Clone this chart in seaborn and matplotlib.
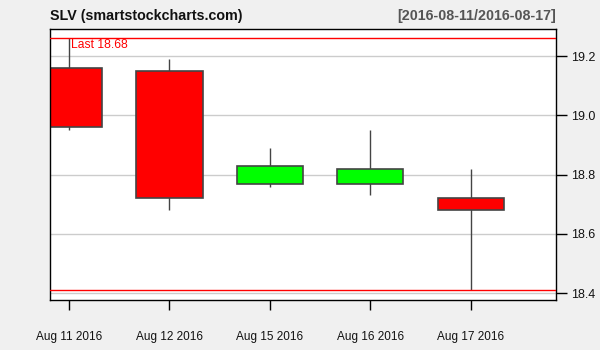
import matplotlib
matplotlib.use("Agg")
import matplotlib.pyplot as plt
import seaborn as sns
import pandas as pd
import numpy as np

dates = ["Aug 11 2016", "Aug 12 2016", "Aug 15 2016", "Aug 16 2016", "Aug 17 2016"]
opens = [19.16, 19.15, 18.77, 18.77, 18.72]
highs = [19.26, 19.19, 18.89, 18.95, 18.82]
lows = [18.95, 18.68, 18.76, 18.73, 18.41]
closes = [18.96, 18.72, 18.83, 18.82, 18.68]
yticks = [18.4, 18.6, 18.8, 19.0, 19.2]
last_price = 18.68

df = pd.DataFrame({"date": dates, "open": opens, "high": highs, "low": lows, "close": closes})
df["pos"] = np.arange(len(df))

sns.set_style("white")
plt.rcParams["font.family"] = ["Liberation Sans", "DejaVu Sans"]

fig = plt.figure(figsize=(6, 3.5), dpi=100, facecolor="#F0F0F0")
ax = fig.add_axes([50/600, 1-299.5/350, 506/600, 271/350])
ax.set_facecolor("white")

for y in yticks:
    ax.axhline(y, color="#CCCCCC", lw=1, zorder=0)

edge = "#444444"
ax.vlines(df["pos"], df["low"], df["high"], color=edge, lw=1, zorder=1)
colors = ["#00FF00" if c >= o else "#FF0000" for o, c in zip(df["open"], df["close"])]
bottoms = np.minimum(df["open"], df["close"])
heights = np.abs(df["close"] - df["open"])
ax.bar(df["pos"], heights, bottom=bottoms, width=0.66, color=colors,
       edgecolor=edge, linewidth=1.2, zorder=2)

ax.axhline(max(highs), color="#FF0000", lw=1, zorder=3)
ax.axhline(min(lows), color="#FF0000", lw=1, zorder=3)
ax.text(0.02, max(highs) - 0.002, f"Last {last_price:.2f}", color="#FF0000",
        fontsize=8.7, va="top", ha="left", zorder=4)

ax.set_xlim(-0.19, 4.85)
ax.set_ylim(18.379, 19.293)
ax.set_xticks(df["pos"])
ax.set_xticklabels(df["date"])
ax.set_yticks(yticks)
ax.set_yticklabels([f"{v:.1f}" for v in yticks])
ax.yaxis.tick_right()
ax.tick_params(axis="y", direction="out", length=8, width=1, color="black",
               labelsize=9, pad=3, right=True, left=False, labelcolor="#111111")
ax.tick_params(axis="x", direction="out", length=7, width=1, color="black",
               labelsize=8.5, pad=16, bottom=True, labelcolor="#111111")
for s in ax.spines.values():
    s.set_visible(True)
    s.set_color("black")
    s.set_linewidth(1)

fig.text(50/600, 1-16/350, "SLV (smartstockcharts.com)", fontsize=10.3,
         fontweight="bold", ha="left", va="center", color="#111111")
fig.text(556/600, 1-16/350, "[2016-08-11/2016-08-17]", fontsize=10.3,
         fontweight="bold", ha="right", va="center", color="#555555")

fig.savefig("out.png", dpi=100, facecolor=fig.get_facecolor())
